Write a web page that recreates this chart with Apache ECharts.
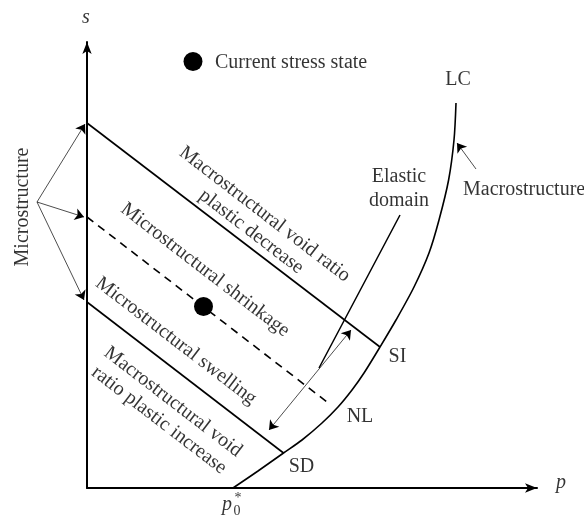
<!DOCTYPE html>
<html>
<head>
<meta charset="utf-8">
<script src="https://cdn.jsdelivr.net/npm/echarts@6/dist/echarts.min.js"></script>
<style>html,body{margin:0;padding:0;background:#fff}#c{width:584px;height:515px}</style>
</head>
<body>
<div id="c"></div>
<script>
// Diagram data in (p, s) units
const lcCurve = [[369,385],[367,348],[361.6,308],[352,268],[342,235],[327,201],[309,168],[293,141],[277,115],[265,98],[251,81],[235,65],[215,48],[196.5,35],[171,17],[146,0]];
const siLine = [[0,365],[293,141]];
const nlLine = [[0,271],[240,86]];
const sdLine = [[0,186],[196.5,35]];
const microArrows = [[[-50,286],[-2,364]],[[-50,286],[-3,271]],[[-50,286],[-3,188]]];
const macroArrow = [[389,319],[370,345]];
const elasticArrow = [[182,58],[264,158]];
const elasticPointer = [[313,273],[232,120]];
const stressPoints = [[116.5,181.5]];
const legendPoint = [[106,426.5]];

const labelTexts = ['Current stress state','LC','Macrostructure','Elastic\ndomain','SI','NL','SD',
  'Macrostructural void ratio\nplastic decrease','Microstructural shrinkage','Microstructural swelling',
  'Macrostructural void\nratio plastic increase','Microstructure','s','p','p','0','*'];
const labelPos = [[128,425],[371,408.5],[376,298],[312,299],[310.5,131.5],[273,71],[214.5,21],
  [171,265],[118,218],[89,147],[79,77],[-64,281],[-1,470],[474,5],[140,-17],[150,-23],[151,-10]];
const labelKinds = ['left','c','left','c2','c','c','c','rot','rot','rot','rot2','vert','it','it','it','small','small'];

const FONT = '"Liberation Serif", "Times New Roman", serif';
function labelItem(i){
  const k = labelKinds[i];
  const lab = {show:true, formatter: labelTexts[i], color:'#000', fontFamily: FONT, fontSize:20,
    position:'inside', align:'center', verticalAlign:'middle'};
  if (k==='left'){ lab.position='right'; lab.distance=0; lab.align='left'; }
  if (k==='c2'){ lab.lineHeight=24; }
  if (k==='rot'){ lab.rotate=-37.5; lab.lineHeight=22; }
  if (k==='rot2'){ lab.rotate=-37.5; lab.lineHeight=23; }
  if (k==='vert'){ lab.rotate=90; }
  if (k==='it'){ lab.fontStyle='italic'; }
  if (k==='small'){ lab.fontSize=14; }
  return {value: labelPos[i], label: lab};
}

const chart = echarts.init(document.getElementById('c'), null, {renderer:'canvas'});
const axisCommon = {type:'value', axisTick:{show:false}, axisLabel:{show:false}, splitLine:{show:false}};
chart.setOption({
  animation:false,
  backgroundColor:'#fff',
  grid:{left:87, right:47, top:42, bottom:27},
  xAxis: Object.assign({}, axisCommon, {min:0, max:450,
    axisLine:{show:true, onZero:false, symbol:['none','arrow'], symbolSize:[7,12], lineStyle:{color:'#000', width:2}}}),
  yAxis: Object.assign({}, axisCommon, {min:0, max:446,
    axisLine:{show:true, onZero:false, symbol:['none','arrow'], symbolSize:[7,12], lineStyle:{color:'#000', width:2}}}),
  series:[
    {type:'line', data: lcCurve, smooth:0.3, showSymbol:false, clip:false, lineStyle:{color:'#000', width:1.6}},
    {type:'line', data: siLine, showSymbol:false, clip:false, lineStyle:{color:'#000', width:1.6}},
    {type:'line', data: nlLine, showSymbol:false, clip:false, lineStyle:{color:'#000', width:1.6, type:[8,6]}},
    {type:'line', data: sdLine, showSymbol:false, clip:false, lineStyle:{color:'#000', width:1.6}},
    {type:'lines', coordinateSystem:'cartesian2d', clip:false, symbol:['none','arrow'], symbolSize:9,
      lineStyle:{color:'#000', width:0.7, opacity:1},
      data: microArrows.concat([macroArrow]).map(c => ({coords:c}))},
    {type:'lines', coordinateSystem:'cartesian2d', clip:false, symbol:['arrow','arrow'], symbolSize:9,
      lineStyle:{color:'#000', width:0.7, opacity:1},
      data: [{coords: elasticArrow}]},
    {type:'lines', coordinateSystem:'cartesian2d', clip:false, symbol:['none','none'],
      lineStyle:{color:'#000', width:1.5, opacity:1},
      data: [{coords: elasticPointer}]},
    {type:'scatter', data: stressPoints.concat(legendPoint), symbolSize:19, clip:false, itemStyle:{color:'#000', opacity:1}},
    {type:'scatter', data: labelTexts.map((t,i)=>labelItem(i)), symbolSize:0, clip:false, itemStyle:{color:'transparent'}}
  ]
});
</script>
</body>
</html>
